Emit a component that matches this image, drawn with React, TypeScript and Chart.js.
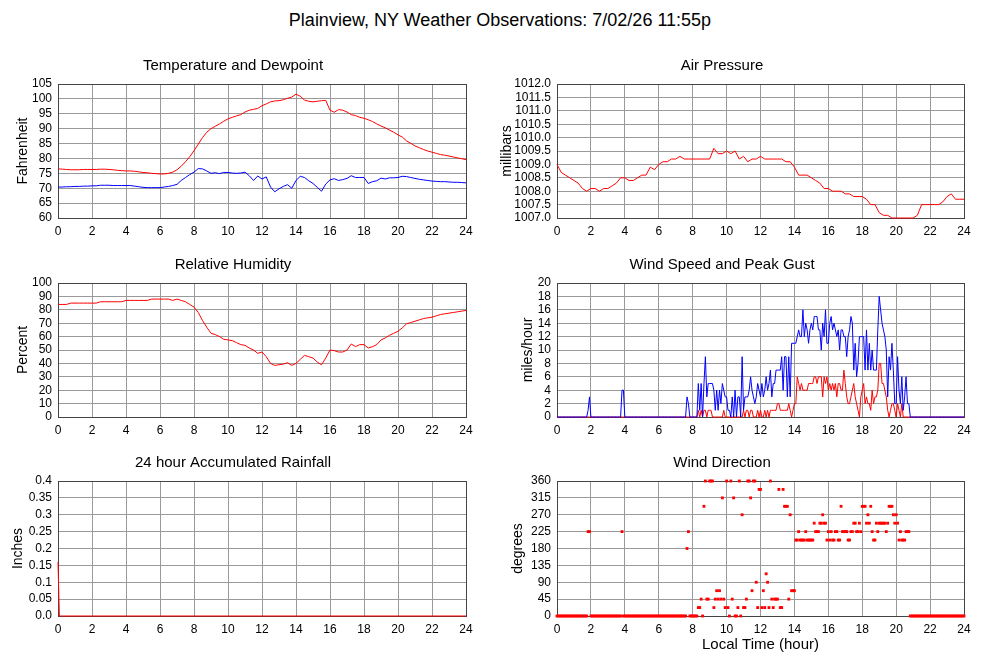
import { useEffect, useRef } from 'react';
import Chart from 'chart.js/auto';

const FONT = '"Liberation Sans", Arial, Helvetica, sans-serif';
const GRID = '#9a9a9a';
const FRAME = '#444444';
const RED = '#ff0000';
const BLUE = '#0000ff';

// observation times (hours)
const QUARTER_HOURS = Array.from({ length: 97 }, (_, i) => i / 4);
const FIVE_MINUTES = Array.from({ length: 289 }, (_, i) => i / 12);

// Fahrenheit, every 15 minutes
const TEMPERATURE = [
  76.5, 76.4, 76.3, 76.2,
  76.2, 76.2, 76.3, 76.3,
  76.3, 76.3, 76.4, 76.4,
  76.3, 76.2, 76.0, 75.9,
  75.8, 75.8, 75.7, 75.5,
  75.3, 75.2, 75.0, 74.9,
  74.8, 74.8, 75.0, 75.4,
  76.2, 77.4, 78.9, 80.6,
  82.6, 84.8, 87.0, 88.8,
  90.0, 90.8, 91.6, 92.5,
  93.3, 93.8, 94.3, 94.7,
  95.6, 96.2, 96.5, 96.8,
  97.7, 98.3, 99.0, 99.3,
  99.4, 99.7, 100.2, 100.6,
  101.6, 100.9, 99.6, 99.2,
  99.0, 99.2, 99.4, 99.5,
  96.2, 95.5, 96.4, 96.2,
  95.6, 94.7, 94.4, 93.8,
  93.5, 93.0, 92.4, 91.6,
  90.9, 90.3, 89.5, 88.8,
  87.9, 87.2, 85.9, 85.1,
  84.2, 83.6, 83.0, 82.5,
  82.1, 81.7, 81.3, 81.1,
  80.8, 80.5, 80.2, 79.9,
  79.6,
];

const DEWPOINT = [
  70.4, 70.4, 70.5, 70.5,
  70.6, 70.6, 70.7, 70.7,
  70.8, 70.8, 71.0, 71.0,
  71.0, 70.9, 70.9, 70.9,
  70.9, 70.9, 70.7, 70.5,
  70.3, 70.2, 70.2, 70.2,
  70.2, 70.4, 70.6, 70.9,
  71.3, 72.6, 73.6, 74.6,
  75.4, 76.6, 76.5, 75.8,
  75.0, 75.2, 74.9, 75.3,
  75.3, 75.1, 75.0, 75.1,
  75.4, 74.2, 72.6, 74.1,
  73.1, 73.8, 70.4, 68.8,
  69.8, 70.6, 71.2, 70.0,
  72.6, 74.0, 73.6, 72.5,
  71.6, 70.3, 69.0, 71.4,
  72.8, 73.2, 72.6, 72.9,
  73.3, 74.2, 73.6, 73.6,
  73.6, 71.6, 72.2, 72.5,
  73.4, 73.1, 73.5, 73.5,
  73.6, 74.0, 73.9, 73.6,
  73.3, 73.0, 72.8, 72.6,
  72.4, 72.3, 72.2, 72.2,
  72.1, 72.0, 72.0, 71.9,
  71.8,
];

// millibars, every 15 minutes
const PRESSURE = [
  1009.0, 1008.7, 1008.6, 1008.5,
  1008.4, 1008.3, 1008.1, 1008.0,
  1008.1, 1008.1, 1008.0, 1008.1,
  1008.1, 1008.2, 1008.3, 1008.5,
  1008.5, 1008.4, 1008.4, 1008.5,
  1008.6, 1008.6, 1008.9, 1008.8,
  1009.0, 1009.1, 1009.1, 1009.2,
  1009.2, 1009.3, 1009.2, 1009.2,
  1009.2, 1009.2, 1009.2, 1009.2,
  1009.2, 1009.6, 1009.4, 1009.4,
  1009.5, 1009.4, 1009.5, 1009.2,
  1009.3, 1009.1, 1009.2, 1009.2,
  1009.3, 1009.2, 1009.2, 1009.2,
  1009.2, 1009.2, 1009.1, 1009.1,
  1008.9, 1008.6, 1008.6, 1008.6,
  1008.5, 1008.4, 1008.3, 1008.1,
  1008.1, 1008.0, 1008.0, 1008.0,
  1007.9, 1007.9, 1007.8, 1007.8,
  1007.8, 1007.7, 1007.5, 1007.5,
  1007.2, 1007.1, 1007.1, 1007.0,
  1007.0, 1007.0, 1007.0, 1007.0,
  1007.0, 1007.1, 1007.5, 1007.5,
  1007.5, 1007.5, 1007.5, 1007.6,
  1007.8, 1007.9, 1007.7, 1007.7,
  1007.7,
];

// percent, every 15 minutes
const HUMIDITY = [
  84, 84, 84, 85,
  85, 85, 85, 85,
  85, 85, 86, 86,
  86, 86, 86, 86,
  87, 87, 87, 87,
  87, 87, 88, 88,
  88, 88, 88, 87,
  88, 87, 86, 84,
  82, 78, 72, 67,
  62.5, 61.5, 60, 58,
  57.5, 57, 55.5, 54,
  53.5, 51.5, 50, 47.5,
  48.5, 45, 40, 38.5,
  39, 39.5, 40.5, 38.5,
  40, 43, 46, 45,
  44, 41, 39, 44,
  50, 49.5, 48.5, 48.5,
  50, 54.5, 52.5, 54,
  54, 51.5, 52.5, 54,
  57.5, 59, 61, 62.5,
  64, 66.5, 69.5, 70.5,
  71.5, 72.5, 73.5, 74,
  74.5, 75.5, 76.5, 77,
  77.5, 78, 78.5, 79,
  79.5,
];

// inches, accumulated
const RAIN_HOURS = [0, 0.08, 24];
const RAIN_INCHES = [0.16, 0, 0];

// miles/hour, every 5 minutes (one row per hour)
const WIND_GUST = [
  0, 0, 0, 0, 0, 0, 0, 0, 0, 0, 0, 0,
  0, 0, 0, 0, 0, 0, 0, 0, 0, 0, 1, 3,
  0, 0, 0, 0, 0, 0, 0, 0, 0, 0, 0, 0,
  0, 0, 0, 0, 0, 0, 0, 0, 0, 0, 4, 4,
  0, 0, 0, 0, 0, 0, 0, 0, 0, 0, 0, 0,
  0, 0, 0, 0, 0, 0, 0, 0, 0, 0, 0, 0,
  0, 0, 0, 0, 0, 0, 0, 0, 0, 0, 0, 0,
  0, 0, 0, 0, 0, 0, 0, 0, 3, 2, 0, 0,
  0, 0, 0, 0, 5, 1, 5, 0, 5, 9, 3, 5,
  5, 5, 5, 4, 1, 4, 1, 4, 2, 5, 4, 3,
  3, 1, 1, 0, 3, 0, 4, 0, 3, 3, 0, 9,
  1, 3, 3, 3, 4, 6, 4, 3, 2, 3, 5, 4,
  3, 5, 3, 4, 6, 4, 5, 7, 3, 5, 5, 7,
  7, 7, 7, 9, 4, 9, 9, 3, 9, 3, 11, 11,
  11, 11, 12, 13, 12, 12, 16, 12, 14, 13, 11, 13,
  14, 13, 15, 15, 15, 13, 13, 10, 14, 12, 16, 11,
  11, 14, 15, 13, 14, 13, 12, 13, 10, 13, 13, 12,
  12, 9, 12, 13, 15, 14, 7, 11, 6, 8, 12, 12,
  12, 12, 7, 13, 7, 11, 7, 10, 7, 7, 7, 13,
  18, 16, 14, 13, 12, 10, 3, 9, 7, 11, 7, 2,
  2, 9, 4, 2, 6, 1, 3, 6, 2, 2, 0, 0,
  0, 0, 0, 0, 0, 0, 0, 0, 0, 0, 0, 0,
  0, 0, 0, 0, 0, 0, 0, 0, 0, 0, 0, 0,
  0, 0, 0, 0, 0, 0, 0, 0, 0, 0, 0, 0,
  0,
];

const WIND_SPEED = [
  0, 0, 0, 0, 0, 0, 0, 0, 0, 0, 0, 0,
  0, 0, 0, 0, 0, 0, 0, 0, 0, 0, 0, 0,
  0, 0, 0, 0, 0, 0, 0, 0, 0, 0, 0, 0,
  0, 0, 0, 0, 0, 0, 0, 0, 0, 0, 0, 0,
  0, 0, 0, 0, 0, 0, 0, 0, 0, 0, 0, 0,
  0, 0, 0, 0, 0, 0, 0, 0, 0, 0, 0, 0,
  0, 0, 0, 0, 0, 0, 0, 0, 0, 0, 0, 0,
  0, 0, 0, 0, 0, 0, 0, 0, 0, 0, 0, 0,
  0, 0, 0, 0, 1, 0, 1, 0, 1, 1, 0, 1,
  1, 1, 0, 0, 0, 0, 0, 0, 0, 0, 1, 0,
  0, 0, 0, 0, 0, 0, 0, 0, 0, 0, 0, 0,
  1, 0, 1, 1, 0, 1, 1, 0, 0, 0, 1, 0,
  1, 0, 0, 1, 0, 1, 0, 1, 1, 1, 1, 1,
  2, 2, 1, 1, 1, 1, 1, 1, 2, 1, 0, 1,
  2, 2, 6, 5, 4, 5, 4, 4, 4, 4, 5, 5,
  5, 5, 6, 6, 5, 6, 6, 6, 3, 6, 5, 6,
  4, 5, 4, 5, 4, 5, 3, 5, 5, 4, 4, 7,
  5, 3, 2, 2, 3, 4, 5, 3, 2, 1, 0, 3,
  4, 5, 2, 3, 2, 2, 1, 4, 2, 3, 3, 4,
  8, 8, 5, 5, 4, 3, 1, 0, 1, 2, 2, 1,
  0, 2, 1, 0, 2, 0, 0, 0, 0, 0, 0, 0,
  0, 0, 0, 0, 0, 0, 0, 0, 0, 0, 0, 0,
  0, 0, 0, 0, 0, 0, 0, 0, 0, 0, 0, 0,
  0, 0, 0, 0, 0, 0, 0, 0, 0, 0, 0, 0,
  0,
];

// degrees, every 5 minutes (one row per hour)
const WIND_DIRECTION = [
  0, 0, 0, 0, 0, 0, 0, 0, 0, 0, 0, 0,
  0, 0, 0, 0, 0, 0, 0, 0, 0, 0, 225, 225,
  0, 0, 0, 0, 0, 0, 0, 0, 0, 0, 0, 0,
  0, 0, 0, 0, 0, 0, 0, 0, 0, 0, 225, 0,
  0, 0, 0, 0, 0, 0, 0, 0, 0, 0, 0, 0,
  0, 0, 0, 0, 0, 0, 0, 0, 0, 0, 0, 0,
  0, 0, 0, 0, 0, 0, 0, 0, 0, 0, 0, 0,
  0, 0, 0, 0, 0, 0, 0, 0, 180, 225, 0, 0,
  0, 0, 0, 0, 22.5, 22.5, 45, 0, 292.5, 360, 45, 45,
  360, 360, 360, 22.5, 45, 67.5, 45, 67.5, 45, 315, 45, 22.5,
  360, 22.5, 0, 360, 45, 315, 0, 0, 22.5, 360, 0, 270,
  22.5, 22.5, 45, 360, 360, 315, 67.5, 360, 360, 90, 22.5, 337.5,
  337.5, 22.5, 67.5, 22.5, 112.5, 90, 22.5, 360, 45, 22.5, 45, 45,
  45, 337.5, 22.5, 22.5, 337.5, 292.5, 292.5, 292.5, 45, 270, 67.5, 67.5,
  67.5, 202.5, 202.5, 225, 202.5, 202.5, 202.5, 202.5, 225, 202.5, 202.5, 202.5,
  202.5, 202.5, 247.5, 225, 225, 225, 247.5, 247.5, 270, 247.5, 247.5, 202.5,
  225, 202.5, 225, 202.5, 202.5, 225, 225, 202.5, 202.5, 292.5, 225, 225,
  225, 225, 202.5, 202.5, 225, 225, 247.5, 247.5, 225, 225, 247.5, 225,
  292.5, 292.5, 292.5, 247.5, 270, 247.5, 292.5, 225, 202.5, 202.5, 247.5, 225,
  247.5, 247.5, 247.5, 247.5, 247.5, 225, 247.5, 292.5, 292.5, 292.5, 270, 247.5,
  270, 247.5, 202.5, 225, 202.5, 202.5, 202.5, 225, 225, 225, 0, 0,
  0, 0, 0, 0, 0, 0, 0, 0, 0, 0, 0, 0,
  0, 0, 0, 0, 0, 0, 0, 0, 0, 0, 0, 0,
  0, 0, 0, 0, 0, 0, 0, 0, 0, 0, 0, 0,
  0,
];

type Series = { label: string; xs: number[]; ys: number[]; color: string };

interface PanelProps {
  title: string;
  yTitle: string;
  yTitleGap: number;
  yMin: number;
  yMax: number;
  yStep: number;
  yFormat: (v: number) => string;
  series: Series[];
  dots?: boolean;
  xTitle?: string;
  box: [number, number, number, number]; // left, top, width, height
  area: [number, number, number, number]; // left, top, right, bottom
}

// box around the plot area, drawn under the data
const framePlugin = {
  id: 'frame',
  beforeDatasetsDraw(chart: Chart) {
    const { ctx, chartArea: a } = chart;
    ctx.save();
    ctx.strokeStyle = FRAME;
    ctx.lineWidth = 1;
    ctx.strokeRect(Math.round(a.left) + 0.5, Math.round(a.top) + 0.5, Math.round(a.width), Math.round(a.height));
    ctx.restore();
  },
};

function Panel(p: PanelProps) {
  const canvasRef = useRef<HTMLCanvasElement>(null);
  const [bl, bt, bw, bh] = p.box;

  useEffect(() => {
    if (!canvasRef.current) return;
    const [al, at, ar, ab] = p.area;
    const yWidth = al - bl;
    const padRight = bl + bw - ar;
    const xHeight = bt + bh - ab;
    const titleBlock = at - bt;

    const chart = new Chart(canvasRef.current, {
      type: p.dots ? 'scatter' : 'line',
      data: {
        datasets: p.series.map(s => ({
          label: s.label,
          data: s.ys.map((y, i) => ({ x: s.xs[i], y })),
          borderColor: s.color,
          backgroundColor: s.color,
          borderWidth: p.dots ? 0 : 1,
          pointRadius: p.dots ? 2 : 0,
          pointStyle: 'rect',
          showLine: !p.dots,
          tension: 0,
          clip: false,
        })),
      },
      options: {
        animation: false,
        responsive: false,
        events: [],
        layout: { padding: { left: 0, right: padRight, top: 0, bottom: 0 } },
        plugins: {
          legend: { display: false },
          tooltip: { enabled: false },
          title: {
            display: true,
            text: p.title,
            color: '#000',
            font: { family: FONT, size: 15, weight: 'normal' },
            padding: { top: titleBlock - 27.5, bottom: 9.5 },
          },
        },
        scales: {
          x: {
            type: 'linear',
            min: 0,
            max: 24,
            ticks: {
              stepSize: 2,
              autoSkip: false,
              maxRotation: 0,
              padding: 6,
              color: '#000',
              font: { family: FONT, size: 12 },
            },
            grid: { color: GRID, lineWidth: 1, drawTicks: false },
            border: { display: false },
            title: {
              display: !!p.xTitle,
              text: p.xTitle || '',
              color: '#000',
              font: { family: FONT, size: 15 },
              padding: { top: 0, bottom: 6 },
            },
            afterFit: (scale: any) => {
              scale.height = xHeight;
              scale.paddingLeft = 0;
              scale.paddingRight = 0;
            },
          },
          y: {
            type: 'linear',
            min: p.yMin,
            max: p.yMax,
            ticks: {
              stepSize: p.yStep,
              autoSkip: false,
              padding: 6,
              color: '#000',
              font: { family: FONT, size: 12 },
              callback: (v: any) => p.yFormat(Number(v)),
            },
            grid: { color: GRID, lineWidth: 1, drawTicks: false },
            border: { display: false },
            title: {
              display: true,
              text: p.yTitle,
              color: '#000',
              font: { family: FONT, size: 14 },
              padding: { top: p.yTitleGap, bottom: 0 },
            },
            afterFit: (scale: any) => {
              scale.width = yWidth;
            },
          },
        },
      },
      plugins: [framePlugin],
    } as any);

    return () => chart.destroy();
  }, []);

  return (
    <canvas
      ref={canvasRef}
      width={bw}
      height={bh}
      style={{ position: 'absolute', left: bl, top: bt, width: bw, height: bh }}
    />
  );
}

const whole = (v: number) => String(Math.round(v));

export default function App() {
  return (
    <div style={{ position: 'absolute', left: 0, top: 0, width: 1000, height: 660, background: '#fff', overflow: 'hidden' }}>
      <div
        style={{
          position: 'absolute', left: 0, top: 10, width: 1000, lineHeight: '20px',
          textAlign: 'center', fontFamily: FONT, fontSize: 18, color: '#000',
        }}
      >
        Plainview, NY Weather Observations: 7/02/26 11:55p
      </div>

      <Panel
        title="Temperature and Dewpoint" yTitle="Fahrenheit" yTitleGap={14.5}
        yMin={60} yMax={105} yStep={5} yFormat={whole}
        series={[
          { label: 'Temperature', xs: QUARTER_HOURS, ys: TEMPERATURE, color: RED },
          { label: 'Dewpoint', xs: QUARTER_HOURS, ys: DEWPOINT, color: BLUE },
        ]}
        box={[0, 40, 480, 200]} area={[58, 84, 466, 218]}
      />
      <Panel
        title="Air Pressure" yTitle="millibars" yTitleGap={18.5}
        yMin={1007} yMax={1012} yStep={0.5} yFormat={v => v.toFixed(1)}
        series={[{ label: 'Pressure', xs: QUARTER_HOURS, ys: PRESSURE, color: RED }]}
        box={[480, 40, 500, 200]} area={[557, 84, 964, 218]}
      />
      <Panel
        title="Relative Humidity" yTitle="Percent" yTitleGap={14.5}
        yMin={0} yMax={100} yStep={10} yFormat={whole}
        series={[{ label: 'Humidity', xs: QUARTER_HOURS, ys: HUMIDITY, color: RED }]}
        box={[0, 239, 480, 200]} area={[58, 283, 466, 417]}
      />
      <Panel
        title="Wind Speed and Peak Gust" yTitle="miles/hour" yTitleGap={39.5}
        yMin={0} yMax={20} yStep={2} yFormat={whole}
        series={[
          { label: 'Peak Gust', xs: FIVE_MINUTES, ys: WIND_GUST, color: BLUE },
          { label: 'Wind Speed', xs: FIVE_MINUTES, ys: WIND_SPEED, color: RED },
        ]}
        box={[480, 239, 500, 200]} area={[557, 283, 964, 417]}
      />
      <Panel
        title="24 hour Accumulated Rainfall" yTitle="Inches" yTitleGap={10}
        yMin={0} yMax={0.4} yStep={0.05}
        yFormat={v => (v === 0 ? '0.0' : String(Number(v.toFixed(2))))}
        series={[{ label: 'Rainfall', xs: RAIN_HOURS, ys: RAIN_INCHES, color: RED }]}
        box={[0, 437, 480, 201]} area={[58, 481, 466, 616]}
      />
      <Panel
        title="Wind Direction" yTitle="degrees" yTitleGap={30}
        yMin={0} yMax={360} yStep={45} yFormat={whole}
        series={[{ label: 'Direction', xs: FIVE_MINUTES, ys: WIND_DIRECTION, color: RED }]}
        dots xTitle="Local Time (hour)"
        box={[480, 437, 500, 223]} area={[557, 481, 964, 616]}
      />
    </div>
  );
}
